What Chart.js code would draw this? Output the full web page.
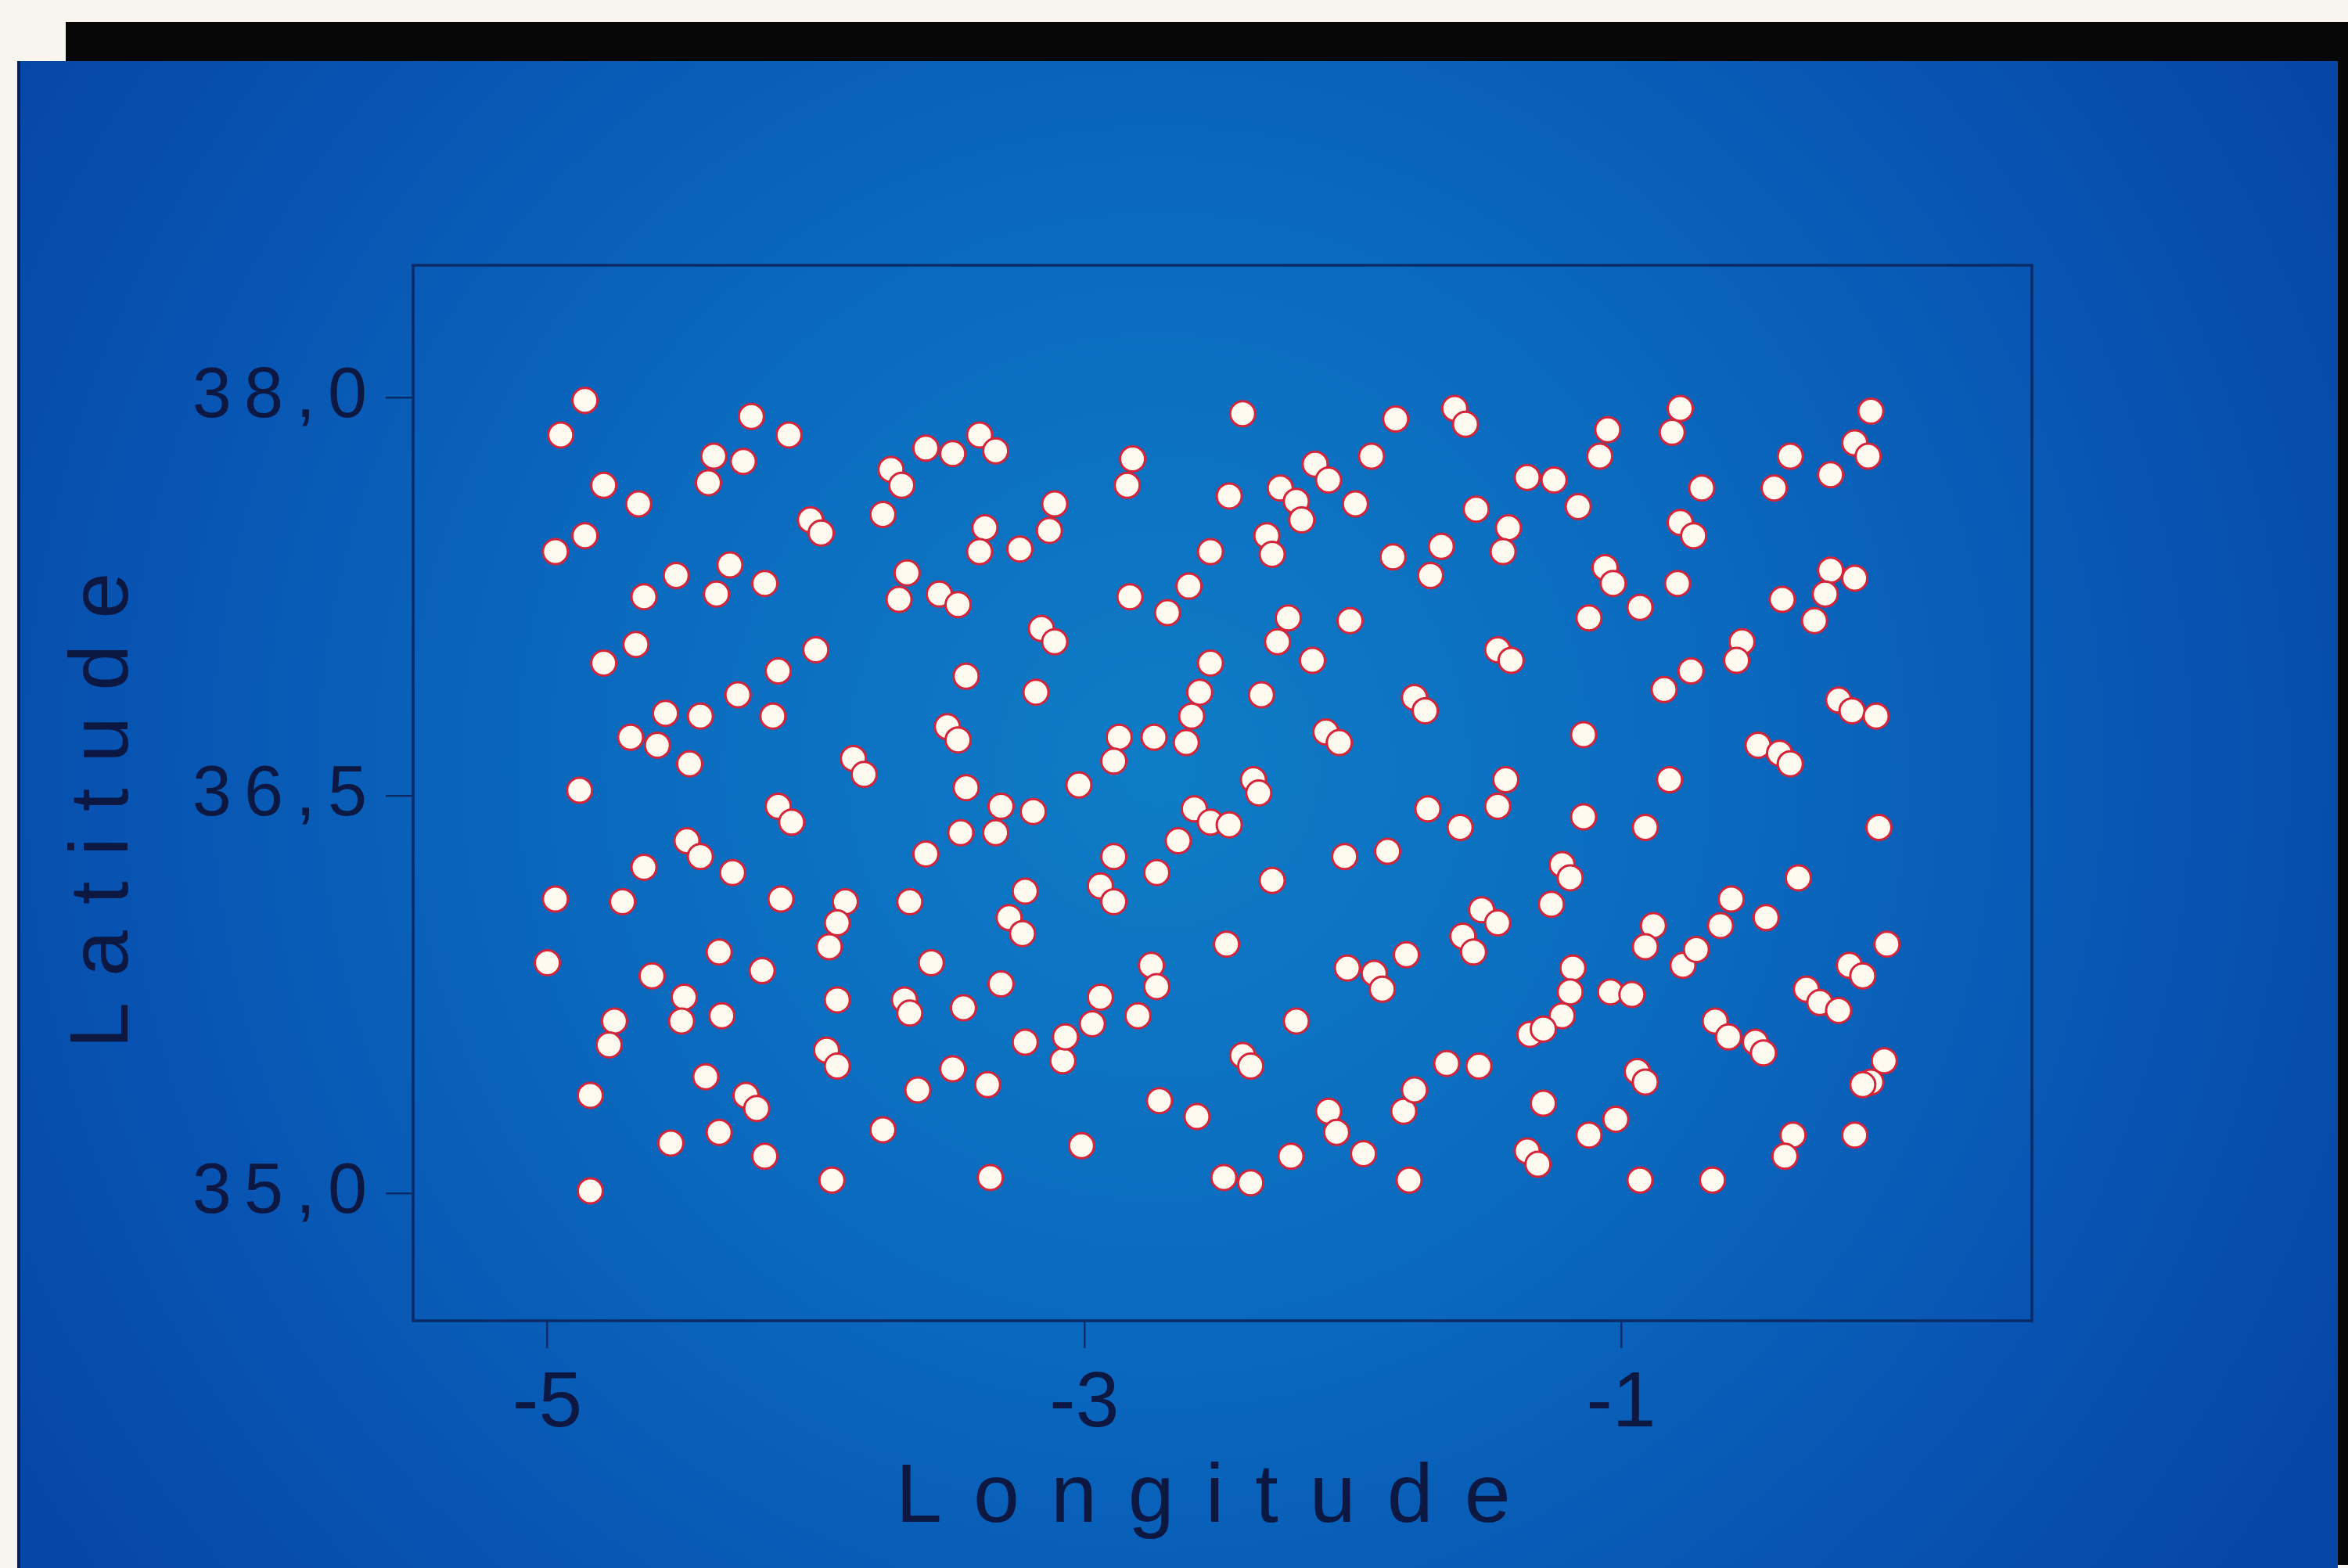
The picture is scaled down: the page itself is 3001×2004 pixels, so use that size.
<!DOCTYPE html>
<html>
<head>
<meta charset="utf-8">
<script src="https://cdn.jsdelivr.net/npm/chart.js@4.4.1/dist/chart.umd.min.js"></script>
<style>
  html, body { margin: 0; padding: 0; background: #f7f5ee; overflow: hidden; }
  canvas { display: block; }
</style>
</head>
<body>
<canvas id="map" width="3001" height="2004"></canvas>
<script>
// Station positions (degrees)
const longitude = [
  -4.86, -4.95, -4.24, -4.10, -4.38, -4.27, -4.40, -4.79, -4.66, -4.02,
  -3.98, -4.86, -4.97, -4.32, -4.52, -4.19, -4.37, -4.64, -3.59, -3.49,
  -3.39, -3.33, -3.72, -3.68, -3.75, -3.11, -3.13, -3.37, -3.39, -3.24,
  -2.82, -2.84, -3.66, -3.69, -3.54, -3.47, -3.16, -3.11, -2.83, -2.69,
  -2.61, -2.53, -2.41, -1.84, -1.62, -1.58, -1.93, -2.14, -2.09, -2.46,
  -2.27, -2.21, -2.19, -1.99, -2.32, -2.30, -1.35, -1.25, -1.54, -1.42,
  -1.44, -1.67, -1.71, -1.85, -2.24, -2.28, -2.01, -1.46, -1.41, -0.78,
  -0.81, -1.05, -1.08, -0.07, -0.13, -0.08, -0.37, -0.22, -0.43, -0.70,
  -1.16, -0.78, -0.73, -1.06, -1.03, -0.79, -0.93, -1.12, -0.40, -0.22,
  -0.13, -0.24, -0.28, -0.55, -4.79, -4.14, -4.00, -4.67, -4.29, -4.43,
  -4.56, -4.16, -4.69, -4.59, -4.47, -3.86, -3.82, -4.88, -4.14, -4.09,
  -4.48, -4.43, -4.64, -4.31, -4.97, -4.72, -4.13, -3.89, -3.92, -3.44,
  -3.18, -2.53, -2.57, -2.60, -2.62, -2.74, -2.87, -2.89, -3.51, -3.47,
  -3.02, -3.44, -3.31, -3.19, -3.46, -3.33, -3.59, -2.59, -2.53, -2.65,
  -2.89, -2.73, -2.94, -2.89, -3.22, -3.65, -3.28, -3.23, -2.34, -2.15,
  -2.10, -2.05, -1.77, -1.73, -2.37, -2.35, -2.46, -2.30, -2.03, -1.87,
  -1.72, -1.60, -1.46, -1.43, -1.52, -1.46, -1.26, -1.22, -1.19, -1.14,
  -1.14, -0.84, -0.74, -0.57, -0.82, -0.91, -0.49, -0.41, -0.37, -0.19,
  -0.14, -0.05, -0.04, -0.34, -0.46, -0.59, -0.63, -0.88, -0.91, -5.00,
  -4.61, -4.49, -4.50, -4.36, -4.35, -4.20, -4.75, -4.77, -4.84, -4.41,
  -4.26, -4.22, -4.54, -4.36, -4.19, -4.84, -3.96, -3.92, -3.94, -3.95,
  -3.57, -3.67, -3.65, -3.45, -3.31, -3.22, -3.49, -3.62, -3.36, -3.75,
  -3.35, -3.01, -3.08, -3.07, -2.94, -2.97, -2.75, -2.73, -2.80, -2.47,
  -2.21, -2.41, -2.38, -2.72, -2.58, -2.48, -2.38, -2.23, -2.09, -2.06,
  -1.96, -1.81, -1.77, -1.79, -1.65, -1.53, -2.02, -1.92, -1.89, -1.80,
  -1.59, -1.55, -1.18, -1.19, -1.22, -1.34, -1.29, -1.29, -1.12, -1.02,
  -0.94, -0.91, -0.93, -1.35, -1.31, -0.66, -1.04, -0.96, -0.77, -0.72,
  -0.65, -0.60, -0.50, -0.47, -0.31, -0.26, -0.19, -0.15, -0.10, -0.01,
  -0.02, -0.07, -0.13, -0.36, -0.39, -0.10, -3.92
];
const latitude = [
  37.99, 37.86, 37.93, 37.86, 37.78, 37.76, 37.68, 37.67, 37.60, 37.54,
  37.49, 37.48, 37.42, 37.37, 37.33, 37.30, 37.26, 37.25, 37.81, 37.79,
  37.86, 37.80, 37.73, 37.67, 37.56, 37.60, 37.50, 37.51, 37.42, 37.43,
  37.77, 37.67, 37.34, 37.24, 37.26, 37.22, 37.13, 37.08, 37.25, 37.19,
  37.29, 37.42, 37.94, 37.92, 37.96, 37.90, 37.78, 37.75, 37.69, 37.63,
  37.66, 37.61, 37.54, 37.60, 37.48, 37.41, 37.70, 37.69, 37.58, 37.51,
  37.42, 37.44, 37.33, 37.40, 37.17, 37.08, 37.16, 37.05, 37.01, 37.96,
  37.87, 37.88, 37.78, 37.95, 37.83, 37.78, 37.78, 37.71, 37.66, 37.66,
  37.59, 37.53, 37.48, 37.36, 37.30, 37.30, 37.21, 37.17, 37.24, 37.35,
  37.32, 37.26, 37.16, 37.08, 37.00, 36.97, 37.05, 37.07, 36.88, 36.80,
  36.81, 36.80, 36.72, 36.69, 36.62, 36.64, 36.58, 36.52, 36.46, 36.40,
  36.33, 36.27, 36.23, 36.21, 36.11, 36.10, 36.11, 36.10, 36.02, 36.95,
  36.89, 37.00, 36.89, 36.80, 36.70, 36.72, 36.72, 36.63, 36.76, 36.71,
  36.54, 36.53, 36.46, 36.44, 36.36, 36.36, 36.28, 36.45, 36.40, 36.33,
  36.27, 36.21, 36.16, 36.10, 36.14, 36.10, 36.04, 35.98, 36.88, 37.01,
  36.74, 36.70, 36.87, 36.82, 36.56, 36.51, 36.39, 36.18, 36.27, 36.29,
  36.45, 36.38, 36.46, 36.56, 36.07, 36.02, 36.09, 36.24, 36.19, 36.73,
  36.42, 36.90, 36.97, 37.01, 36.56, 36.38, 36.69, 36.66, 36.62, 36.86,
  36.82, 36.80, 36.38, 36.19, 36.04, 36.11, 36.01, 36.01, 35.93, 35.87,
  35.82, 35.74, 35.65, 35.91, 35.67, 35.84, 35.65, 35.56, 35.37, 35.44,
  35.37, 35.32, 35.19, 35.23, 35.14, 35.01, 35.54, 35.48, 35.05, 35.93,
  35.87, 35.73, 35.68, 35.70, 35.79, 35.57, 35.47, 35.39, 35.41, 35.24,
  35.06, 35.18, 35.50, 35.59, 35.74, 35.64, 35.86, 35.78, 35.67, 35.94,
  35.65, 35.52, 35.48, 35.35, 35.29, 35.06, 35.04, 35.14, 35.31, 35.23,
  35.15, 35.31, 35.39, 35.05, 35.49, 35.48, 35.85, 35.83, 35.77, 35.90,
  35.97, 35.91, 35.85, 35.76, 35.67, 35.60, 35.62, 35.34, 35.22, 35.28,
  35.46, 35.42, 35.05, 35.16, 35.11, 35.05, 35.76, 35.75, 35.86, 35.92,
  35.65, 35.59, 35.57, 35.53, 35.77, 35.72, 35.69, 35.86, 35.82, 35.94,
  35.50, 35.42, 35.22, 35.22, 35.14, 35.41, 35.73
];

const xTickValues = [-5, -3, -1];
const yTickValues = [35.0, 36.5, 38.0];
const xTitle = 'Longitude';
const yTitle = 'Latitude';

const FONT = "'Liberation Sans', Arial, Helvetica, sans-serif";
const INK = '#0c1742';
const FRAME = '#0a2a68';

const points = longitude.map((x, i) => ({ x: x, y: latitude[i] }));

// Slide backdrop: paper, dark mount edge and the blue panel
const backdrop = {
  id: 'backdrop',
  beforeDraw(chart) {
    const ctx = chart.ctx;
    const W = chart.width, H = chart.height;
    ctx.save();
    ctx.fillStyle = '#f7f5ee';
    ctx.fillRect(0, 0, W, H);
    ctx.fillStyle = '#070707';
    ctx.fillRect(84, 28, W - 84, 54);
    ctx.fillRect(2986, 28, W - 2986, 1972);
    const g = ctx.createRadialGradient(1480, 980, 0, 1480, 980, 1750);
    g.addColorStop(0, 'rgb(14,124,198)');
    g.addColorStop(0.4, 'rgb(10,106,190)');
    g.addColorStop(0.75, 'rgb(8,84,178)');
    g.addColorStop(1, 'rgb(6,70,164)');
    ctx.fillStyle = g;
    ctx.fillRect(22, 78, 2966, H - 78);
    ctx.fillStyle = '#0a2150';
    ctx.fillRect(22, 78, 4, H - 78);
    ctx.restore();
  }
};

// Box around the plotting area
const frame = {
  id: 'frame',
  beforeDatasetsDraw(chart) {
    const { ctx, chartArea: a } = chart;
    ctx.save();
    ctx.strokeStyle = FRAME;
    ctx.lineWidth = 3.5;
    ctx.strokeRect(a.left, a.top, a.right - a.left, a.bottom - a.top);
    ctx.restore();
  }
};

// Per-axis letter spacing for tick labels
const spacing = {
  id: 'spacing',
  afterUpdate(chart) {
    const sp = { x: '0px', y: '16px' };
    Object.keys(sp).forEach(id => {
      const s = chart.scales[id];
      if (!s || s._spaced) return;
      const orig = s.drawLabels;
      s.drawLabels = function (area) {
        const c = this.ctx;
        c.save();
        c.letterSpacing = sp[id];
        orig.call(this, area);
        c.restore();
      };
      s._spaced = true;
    });
  }
};

// Widely tracked axis titles
const titles = {
  id: 'titles',
  afterDraw(chart) {
    const ctx = chart.ctx;
    ctx.save();
    ctx.fillStyle = INK;
    ctx.font = '106px ' + FONT;
    ctx.textBaseline = 'alphabetic';
    ctx.textAlign = 'left';
    ctx.letterSpacing = '40px';
    ctx.fillText(xTitle, 1145, 1945);
    ctx.translate(163, 1340);
    ctx.rotate(-Math.PI / 2);
    ctx.letterSpacing = '33px';
    ctx.fillText(yTitle, 0, 0);
    ctx.restore();
  }
};

new Chart(document.getElementById('map'), {
  type: 'scatter',
  data: {
    datasets: [{
      data: points,
      pointRadius: 16,
      pointHoverRadius: 16,
      pointBackgroundColor: '#fffaf0',
      pointBorderColor: '#d4243a',
      pointBorderWidth: 3
    }]
  },
  options: {
    responsive: false,
    animation: false,
    devicePixelRatio: 1,
    events: [],
    layout: { padding: { left: 168, top: 339, right: 404, bottom: 116 } },
    plugins: { legend: { display: false }, tooltip: { enabled: false } },
    scales: {
      x: {
        type: 'linear',
        min: -5.5,
        max: 0.53,
        afterBuildTicks: s => { s.ticks = xTickValues.map(v => ({ value: v })); },
        afterFit: s => { s.height = 200; },
        border: { display: false },
        grid: { drawOnChartArea: false, drawTicks: true, tickLength: 35, color: FRAME, lineWidth: 2.5 },
        ticks: {
          color: INK,
          padding: 12,
          font: { family: FONT, size: 100 },
          callback: v => String(v)
        }
      },
      y: {
        type: 'linear',
        min: 34.52,
        max: 38.5,
        afterBuildTicks: s => { s.ticks = yTickValues.map(v => ({ value: v })); },
        afterFit: s => { s.width = 360; },
        border: { display: false },
        grid: { drawOnChartArea: false, drawTicks: true, tickLength: 35, color: FRAME, lineWidth: 2.5 },
        ticks: {
          color: INK,
          padding: 8,
          font: { family: FONT, size: 90 },
          callback: v => v.toFixed(1).replace('.', ',')
        }
      }
    }
  },
  plugins: [backdrop, frame, spacing, titles]
});
</script>
</body>
</html>
